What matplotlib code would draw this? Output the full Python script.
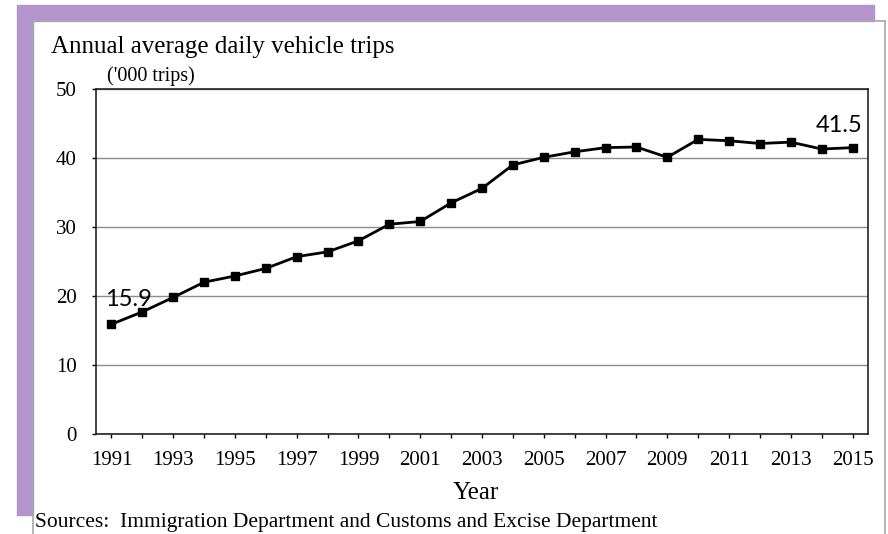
import matplotlib
matplotlib.use('Agg')
import matplotlib.pyplot as plt
from matplotlib.patches import Rectangle

# Annual average daily vehicle trips ('000), 1991-2015
years = list(range(1991, 2016))
trips = [15.9, 17.7, 19.8, 22.0, 22.9, 24.0, 25.7, 26.4, 28.0, 30.4,
         30.8, 33.5, 35.6, 39.0, 40.1, 40.9, 41.5, 41.6, 40.1, 42.7,
         42.5, 42.1, 42.3, 41.3, 41.5]
yticks = [0, 10, 20, 30, 40, 50]
xlabels = [str(y) if (y - 1991) % 2 == 0 else '' for y in years]

W, H = 888, 534
fig = plt.figure(figsize=(W / 100, H / 100), dpi=100)
serif = 'Liberation Serif'


def fx(x):
    return x / W


def fy(y):
    # pixel row from top -> figure fraction
    return 1 - y / H


purple = '#b394cc'
# purple frame bands
fig.patches.append(Rectangle((fx(17), fy(21)), fx(857), 16 / H, transform=fig.transFigure,
                             color=purple, zorder=0))
fig.patches.append(Rectangle((fx(17), fy(515)), fx(16), 494 / H, transform=fig.transFigure,
                             color=purple, zorder=0))
# white panel border
border = '#a8a8a8'
fig.add_artist(plt.Line2D([fx(33), fx(885)], [fy(21), fy(21)], transform=fig.transFigure,
                          color=border, lw=1.2))
fig.add_artist(plt.Line2D([fx(885), fx(885)], [0, fy(21)], transform=fig.transFigure,
                          color=border, lw=1.2))
fig.add_artist(plt.Line2D([fx(33), fx(33)], [0, fy(21)], transform=fig.transFigure,
                          color=border, lw=1.2))

ax = fig.add_axes([fx(96), fy(434), (868 - 96) / W, (434 - 89) / H])
xs = list(range(len(years)))
ax.plot(xs, trips, color='black', lw=2, marker='s', ms=5.5, zorder=3)
ax.set_xlim(-0.5, len(years) - 0.5)
ax.set_ylim(0, 50)
ax.set_yticks(yticks)
ax.set_yticklabels([str(v) for v in yticks], fontfamily=serif, fontsize=15)
ax.set_xticks(xs)
ax.set_xticklabels(xlabels, fontfamily=serif, fontsize=15)
ax.tick_params(axis='x', direction='out', length=3, width=1, pad=9)
ax.tick_params(axis='y', direction='out', length=3, width=1, pad=11)
ax.grid(axis='y', color='#8c8c8c', lw=1)
ax.set_axisbelow(True)
for s in ax.spines.values():
    s.set_color('#222222')
    s.set_linewidth(1.2)

# data labels for first and last year
ax.annotate('15.9', (xs[0], trips[0]), xytext=(12, 18), textcoords='offset points',
            fontfamily='Lato', fontsize=17, ha='center', va='center')
ax.annotate('41.5', (xs[-1], trips[-1]), xytext=(-10, 16), textcoords='offset points',
            fontfamily='Lato', fontsize=17, ha='center', va='center')

fig.text(fx(51), fy(47), 'Annual average daily vehicle trips', fontfamily=serif,
         fontsize=18, va='center', ha='left')
fig.text(fx(107), fy(76), "('000 trips)", fontfamily=serif, fontsize=14.5,
         va='center', ha='left')
fig.text(fx(476), fy(493), 'Year', fontfamily=serif, fontsize=18, va='center', ha='center')
fig.text(fx(35), fy(522), 'Sources:  Immigration Department and Customs and Excise Department',
         fontfamily=serif, fontsize=15.5, va='center', ha='left')

fig.savefig('out.png', dpi=100)
